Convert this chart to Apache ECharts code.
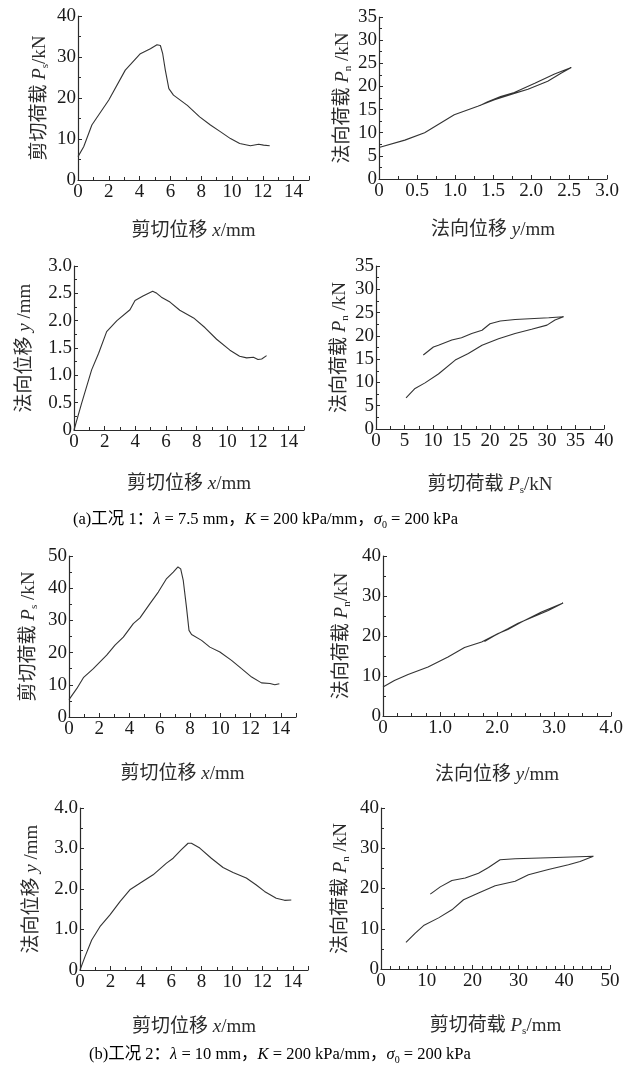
<!DOCTYPE html>
<html>
<head>
<meta charset="utf-8">
<title>剪切试验曲线</title>
<script src="https://cdn.jsdelivr.net/npm/echarts@6/dist/echarts.min.js"></script>
<style>
	html, body { margin: 0; padding: 0; background: #fff; }
	#chart { width: 635px; height: 1075px; }
</style>
</head>
<body>
<div id="chart"></div>
<script>
"use strict";

/*****Data start*****/
// (a) case 1 : shear displacement x vs shear load Ps
var c1ShearX = [0, 0.37, 0.9, 2.0, 3.07, 4.05, 4.7, 5.13, 5.35, 5.5, 5.67, 5.9, 6.2, 7.1, 7.9, 8.6, 9.24, 9.9, 10.5, 11.2, 11.73, 12.05, 12.45];
var c1ShearPs = [5.7, 8.1, 13.4, 19.5, 26.8, 30.8, 32.0, 33.0, 32.8, 30.8, 26.8, 22.3, 20.7, 18.2, 15.4, 13.4, 11.8, 10.1, 8.9, 8.35, 8.7, 8.5, 8.35];
// normal displacement y vs normal load Pn
var c1NormY = [0, 0.34, 0.6, 0.99, 1.3, 1.52, 1.78, 1.96, 2.22, 2.4, 2.53, 2.31, 2.05, 1.78, 1.6, 1.43, 1.33];
var c1NormPn = [6.8, 8.4, 10.0, 13.9, 15.7, 17.1, 18.5, 19.4, 21.1, 22.9, 24.1, 22.7, 20.7, 18.7, 17.8, 16.7, 15.9];
// shear displacement x vs normal displacement y
var c1DilX = [0, 0.5, 1.15, 1.6, 2.13, 2.8, 3.65, 3.98, 4.5, 5.13, 5.4, 5.7, 6.26, 6.9, 7.8, 8.55, 9.3, 10.17, 10.8, 11.26, 11.7, 12.0, 12.24, 12.56];
var c1DilY = [0, 0.49, 1.1, 1.4, 1.8, 2.0, 2.2, 2.37, 2.45, 2.54, 2.5, 2.43, 2.34, 2.19, 2.05, 1.87, 1.66, 1.46, 1.35, 1.32, 1.33, 1.29, 1.3, 1.36];
// shear load Ps vs normal load Pn
var c1PathPs = [5.27, 6.85, 8.6, 10.95, 13.9, 16.2, 18.6, 21.5, 24.4, 27.3, 30.0, 31.4, 32.9, 30.3, 24.4, 21.8, 20.0, 18.6, 16.8, 15.0, 13.3, 10.95, 10.07, 8.3];
var c1PathPn = [6.7, 8.7, 9.9, 11.8, 14.8, 16.2, 18.0, 19.4, 20.5, 21.4, 22.3, 23.4, 24.1, 23.9, 23.5, 23.2, 22.6, 21.2, 20.5, 19.6, 19.1, 18.0, 17.6, 15.9];

// (b) case 2
var c2ShearX = [0, 0.51, 0.95, 1.61, 2.49, 3.04, 3.59, 4.25, 4.69, 5.35, 5.9, 6.45, 6.89, 7.2, 7.38, 7.55, 7.76, 7.93, 8.1, 8.76, 9.31, 9.97, 10.74, 11.4, 12.07, 12.72, 13.28, 13.6, 13.9];
var c2ShearPs = [5.4, 8.8, 12.2, 15.0, 19.2, 22.3, 24.8, 29.0, 30.8, 35.2, 38.8, 43.0, 45.0, 46.6, 46.0, 42.4, 34.2, 26.9, 25.6, 23.8, 21.7, 20.2, 17.6, 15.0, 12.4, 10.6, 10.4, 10.0, 10.35];
var c2NormY = [0, 0.2, 0.44, 0.79, 1.14, 1.43, 1.73, 2.02, 2.19, 2.43, 2.78, 3.16, 2.9, 2.37, 2.19, 1.96, 1.78];
var c2NormPn = [7.25, 8.9, 10.4, 12.25, 14.75, 17.1, 18.5, 20.6, 21.6, 23.5, 26.0, 28.25, 26.4, 23.2, 21.8, 20.1, 18.65];
var c2DilX = [0, 0.33, 0.77, 1.31, 1.97, 2.63, 3.28, 3.94, 4.81, 5.69, 6.13, 6.67, 7.11, 7.33, 7.88, 8.64, 9.41, 10.07, 10.94, 11.6, 12.14, 12.91, 13.46, 13.9];
var c2DilY = [0, 0.33, 0.74, 1.07, 1.36, 1.69, 1.98, 2.14, 2.35, 2.64, 2.76, 2.97, 3.13, 3.13, 3.01, 2.76, 2.53, 2.41, 2.27, 2.1, 1.94, 1.77, 1.72, 1.73];
var c2PathPs = [5.45, 7.49, 9.3, 12.57, 15.48, 18.02, 21.29, 24.93, 29.29, 32.19, 36.55, 40.92, 43.46, 46.37, 36.55, 29.29, 26.0, 23.47, 21.29, 18.39, 15.48, 12.94, 10.76];
var c2PathPn = [6.6, 8.9, 10.8, 12.7, 14.7, 17.2, 18.9, 20.7, 21.8, 23.4, 24.7, 25.9, 26.7, 28.0, 27.65, 27.4, 27.15, 25.2, 23.8, 22.6, 22.0, 20.4, 18.6];

// axis ranges and tick labels
var xMaxList = [15, 3, 15, 40, 15, 4, 15, 50];
var xStepList = [2, 0.5, 2, 5, 2, 1, 2, 10];
var xMinorList = [2, 2, 2, 2, 2, 4, 2, 5];
var yMaxList = [40, 35, 3, 35, 50, 40, 4, 40];
var yStepList = [10, 5, 0.5, 5, 10, 10, 1, 10];
var xDigits = [0, 1, 0, 0, 0, 1, 0, 0];
var yDigits = [0, 0, 1, 0, 0, 0, 1, 0];
var xNames = [
	'{c|剪切位移 }{i|x}{c|/mm}', '{c|法向位移 }{i|y}{c|/mm}',
	'{c|剪切位移 }{i|x}{c|/mm}', '{c|剪切荷载 }{i|P}{s|s}{c|/kN}',
	'{c|剪切位移 }{i|x}{c|/mm}', '{c|法向位移 }{i|y}{c|/mm}',
	'{c|剪切位移 }{i|x}{c|/mm}', '{c|剪切荷载 }{i|P}{s|s}{c|/mm}'
];
var yNames = [
	'{c|剪切荷载 }{i|P}{s|s}{c|/kN}', '{c|法向荷载 }{i|P}{s|n}{c| /kN}',
	'{c|法向位移 }{i|y}{c| /mm}', '{c|法向荷载 }{i|P}{s|n}{c| /kN}',
	'{c|剪切荷载 }{i|P}{s|s}{c| /kN}', '{c|法向荷载 }{i|P}{s|n}{c|/kN}',
	'{c|法向位移 }{i|y}{c| /mm}', '{c|法向荷载 }{i|P}{s|n}{c| /kN}'
];
var captionA = '{t|(a)工况 1：}{i|λ}{t| = 7.5 mm，}{i|K}{t| = 200 kPa/mm，}{i|σ}{s|0}{t| = 200 kPa}';
var captionB = '{t|(b)工况 2：}{i|λ}{t| = 10 mm，}{i|K}{t| = 200 kPa/mm，}{i|σ}{s|0}{t| = 200 kPa}';
/*****Data end*****/

/*****Layout start*****/
// [left, top, width, height] of every plot area
var gridBoxes = [
	[78, 16, 231, 164],
	[379, 17, 228, 162],
	[74, 266, 230, 164],
	[376, 266, 228, 163],
	[69, 556, 227, 161],
	[383, 556, 228, 160],
	[80, 808, 228, 162],
	[381, 808, 229, 161]
];
var xNameGaps = [40, 40, 43, 45, 46, 48, 46, 46];
var yNameGaps = [27, 25, 38, 25, 29, 30, 37, 29];
/*****Layout end*****/

var latin = "'Liberation Serif', 'Noto Sans CJK SC', serif";
var ink = '#2b2b2b';

function zip(xs, ys) {
	var out = [];
	for (var i = 0; i < xs.length; i++) {
		out.push([xs[i], ys[i]]);
	}
	return out;
}

var richName = {
	c: { fontSize: 19, lineHeight: 22 },
	i: { fontSize: 19, lineHeight: 22, fontStyle: 'italic' },
	s: { fontSize: 11, lineHeight: 8, verticalAlign: 'bottom' }
};

function makeAxis(isX, i) {
	var max = isX ? xMaxList[i] : yMaxList[i];
	var step = isX ? xStepList[i] : yStepList[i];
	var digits = isX ? xDigits[i] : yDigits[i];
	return {
		type: 'value',
		gridIndex: i,
		min: 0,
		max: max,
		interval: step,
		name: isX ? xNames[i] : yNames[i],
		nameLocation: 'middle',
		nameGap: isX ? xNameGaps[i] : yNameGaps[i],
		nameMoveOverlap: false,
		nameTextStyle: {
			fontFamily: latin,
			fontSize: 19,
			color: ink,
			rich: richName
		},
		axisLine: { show: true, lineStyle: { color: ink, width: 1.2 } },
		axisTick: { show: true, inside: true, length: 4, lineStyle: { color: ink } },
		minorTick: {
			show: true,
			splitNumber: isX ? xMinorList[i] : 2,
			length: 3,
			lineStyle: { color: ink }
		},
		splitLine: { show: false },
		axisLabel: {
			fontFamily: latin,
			fontSize: 19,
			color: '#1a1a1a',
			margin: isX ? 3 : 2,
			formatter: function (v) {
				return v === 0 ? '0' : v.toFixed(digits);
			}
		}
	};
}

var seriesData = [
	zip(c1ShearX, c1ShearPs), zip(c1NormY, c1NormPn),
	zip(c1DilX, c1DilY), zip(c1PathPs, c1PathPn),
	zip(c2ShearX, c2ShearPs), zip(c2NormY, c2NormPn),
	zip(c2DilX, c2DilY), zip(c2PathPs, c2PathPn)
];

var grids = [], xAxes = [], yAxes = [], series = [];
for (var k = 0; k < 8; k++) {
	var b = gridBoxes[k];
	grids.push({ left: b[0], top: b[1], width: b[2], height: b[3], outerBoundsMode: 'none' });
	xAxes.push(makeAxis(true, k));
	yAxes.push(makeAxis(false, k));
	series.push({
		type: 'line',
		xAxisIndex: k,
		yAxisIndex: k,
		showSymbol: false,
		symbol: 'none',
		smooth: false,
		lineStyle: { color: '#333', width: 1.1 },
		data: seriesData[k]
	});
}

var richCaption = {
	t: { fontFamily: latin, fontSize: 16.5, color: '#1a1a1a' },
	i: { fontFamily: latin, fontSize: 16.5, fontStyle: 'italic', color: '#1a1a1a' },
	s: { fontFamily: latin, fontSize: 10, lineHeight: 8, verticalAlign: 'bottom', color: '#1a1a1a' }
};

var chart = echarts.init(document.getElementById('chart'), null, { renderer: 'canvas' });
chart.setOption({
	animation: false,
	backgroundColor: '#fff',
	grid: grids,
	xAxis: xAxes,
	yAxis: yAxes,
	series: series,
	graphic: [
		{ type: 'text', left: 73, top: 510, style: { text: captionA, rich: richCaption, fontFamily: latin, fontSize: 16.5, lineHeight: 20 } },
		{ type: 'text', left: 89, top: 1045, style: { text: captionB, rich: richCaption, fontFamily: latin, fontSize: 16.5, lineHeight: 20 } }
	]
});
</script>
</body>
</html>
